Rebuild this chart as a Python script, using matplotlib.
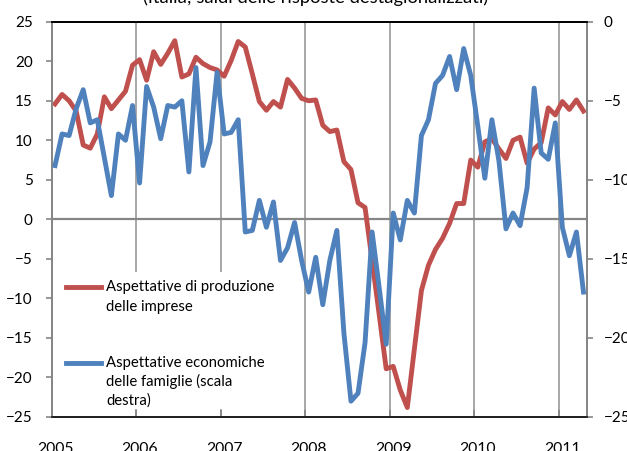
import numpy as np
import matplotlib
matplotlib.use("Agg")
import matplotlib.pyplot as plt
from matplotlib.lines import Line2D
from matplotlib.patches import Rectangle
from matplotlib.transforms import ScaledTranslation

plt.rcParams['font.family'] = ['Lato', 'DejaVu Sans']

# ---- data (monthly, Jan 2005 - Apr 2011) ----
start_year = 2005
year_labels = ['2005', '2006', '2007', '2008', '2009', '2010', '2011']

produzione_imprese = [
    14.6, 15.8, 15.0, 13.7, 9.4, 9.0, 10.8, 15.5, 14.0, 15.1, 16.2, 19.5,
    20.2, 17.6, 21.2, 19.6, 21.0, 22.6, 18.0, 18.4, 20.5, 19.7, 19.2, 18.9,
    18.1, 20.1, 22.5, 21.8, 18.4, 14.9, 13.8, 14.9, 14.2, 17.7, 16.6, 15.3,
    15.0, 15.1, 11.9, 11.1, 11.3, 7.3, 6.3, 2.1, 1.5, -5.2, -12.0, -18.9,
    -18.6, -21.6, -23.8, -16.4, -9.0, -5.8, -3.8, -2.4, -0.5, 2.0, 2.0, 7.5,
    6.6, 9.8, 10.2, 8.9, 7.7, 10.0, 10.4, 7.1, 8.9, 9.7, 14.1, 13.2,
    14.9, 13.9, 15.1, 13.7,
]

famiglie_economiche = [
    -9.1, -7.1, -7.2, -5.5, -4.3, -6.4, -6.2, -8.6, -11.0, -7.1, -7.5, -5.3,
    -10.2, -4.1, -5.4, -7.4, -5.3, -5.4, -5.0, -9.5, -2.9, -9.1, -7.6, -3.2,
    -7.1, -7.0, -6.2, -13.3, -13.2, -11.3, -13.0, -11.4, -15.1, -14.3, -12.7, -15.1,
    -17.1, -14.9, -17.9, -15.1, -13.2, -19.7, -24.0, -23.5, -20.3, -13.3, -16.8, -20.4,
    -12.1, -13.8, -11.3, -12.1, -7.2, -6.2, -3.9, -3.4, -2.2, -4.3, -1.7, -3.4,
    -6.6, -9.9, -6.2, -8.8, -13.1, -12.1, -12.9, -10.5, -4.2, -8.3, -8.7, -6.4,
    -13.0, -14.8, -13.3, -17.1,
]

label_red = ["Aspettative di produzione", "delle imprese"]
label_blue = ["Aspettative economiche", "delle famiglie (scala", "destra)"]
title = "(Italia; saldi delle risposte destagionalizzati)"

RED = '#C0504D'
BLUE = '#4F81BD'
GRID = '#A0A0A0'
AXIS_GRAY = '#868686'

W, H = 627, 451
fig = plt.figure(figsize=(W / 100, H / 100), dpi=100)

def fx(px):
    return px / W

def fy(py):
    return 1 - py / H

left, right, top, bottom = 51.5, 587.0, 21.7, 417.0
ax = fig.add_axes([fx(left), fy(bottom), fx(right) - fx(left), fy(top) - fy(bottom)])
ax2 = ax.twinx()

n = len(produzione_imprese)
months = np.arange(n)
x = start_year + (months + 0.5) / 12.0

ax.plot(x, produzione_imprese, color=RED, lw=3.5, solid_joinstyle='round', zorder=3)
ax2.plot(x, famiglie_economiche, color=BLUE, lw=3.5, solid_joinstyle='round', zorder=3)

ax.set_xlim(start_year, start_year + n / 12.0)
ax.set_ylim(-25, 25)
ax2.set_ylim(-25, 0)
ax.set_yticks(np.arange(-25, 26, 5))
ax2.set_yticks(np.arange(-25, 1, 5))
years = [int(y) for y in year_labels]
ax.set_xticks(years)
ax.set_xticklabels(year_labels)

for yv in years[1:]:
    ax.axvline(yv, color=GRID, lw=1.3, zorder=1)
ax.axhline(0, color=AXIS_GRAY, lw=1.6, zorder=1)

ax.tick_params(axis='y', direction='out', length=4.5, width=1.2, color=AXIS_GRAY,
               labelsize=11, pad=9, labelcolor='black')
ax2.tick_params(axis='y', direction='out', length=4.5, width=1.2, color=AXIS_GRAY,
                labelsize=11, pad=7.5, labelcolor='black')
ax.tick_params(axis='x', direction='in', length=5, width=1.2, color=AXIS_GRAY,
               labelsize=11.3, pad=18)
for lbl in ax.get_xticklabels():
    lbl.set_transform(lbl.get_transform() + ScaledTranslation(3.5 / 100, 0, fig.dpi_scale_trans))

for a in (ax, ax2):
    for s in a.spines.values():
        s.set_linewidth(1.3)
    a.spines['top'].set_color('black')
    a.spines['bottom'].set_color('#202020')
    a.spines['left'].set_color(AXIS_GRAY)
    a.spines['right'].set_color(AXIS_GRAY)

# ---- legend (drawn manually to match layout) ----
fig.add_artist(Rectangle((fx(55), fy(409)), fx(298) - fx(55), fy(272) - fy(409),
                         transform=fig.transFigure, facecolor='white', edgecolor='none', zorder=5))
fig.add_artist(Line2D([fx(66), fx(101)], [fy(286.7), fy(286.7)], transform=fig.transFigure,
                      color=RED, lw=3.5, zorder=6))
fig.add_artist(Line2D([fx(66), fx(101)], [fy(362.7), fy(362.7)], transform=fig.transFigure,
                      color=BLUE, lw=3.5, zorder=6))
for txt, yy in zip(label_red, [286.7, 306.7]):
    fig.text(fx(106), fy(yy), txt, ha='left', va='center', fontsize=10.7, zorder=7)
for txt, yy in zip(label_blue, [362.7, 381.7, 400.7]):
    fig.text(fx(106), fy(yy), txt, ha='left', va='center', fontsize=10.7, zorder=7)

fig.text(fx(316), fy(3.0), title, ha='center', va='baseline', fontsize=13.2)

fig.savefig('out.png', dpi=100)
